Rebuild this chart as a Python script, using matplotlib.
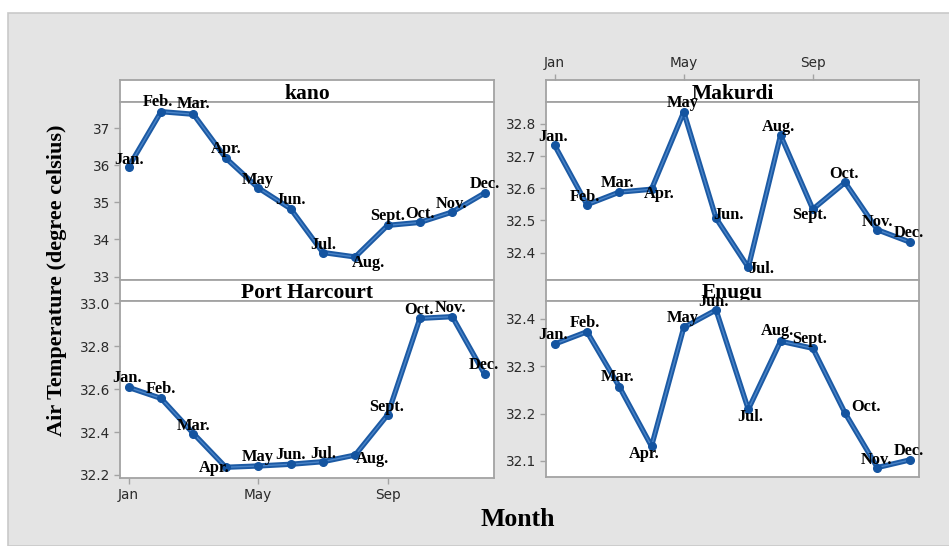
import matplotlib
matplotlib.use("Agg")
import matplotlib.pyplot as plt
from matplotlib.patches import Rectangle

# Monthly mean air temperature (degree celsius) for four Nigerian cities
months = list(range(1, 13))
month_labels = ["Jan.", "Feb.", "Mar.", "Apr.", "May", "Jun.",
                "Jul.", "Aug.", "Sept.", "Oct.", "Nov.", "Dec."]
tick_months = [1, 5, 9]
tick_labels = ["Jan", "May", "Sep"]

kano = [35.96, 37.44, 37.37, 36.19, 35.39, 34.83,
        33.65, 33.53, 34.38, 34.46, 34.74, 35.25]
makurdi = [32.733, 32.549, 32.588, 32.597, 32.837, 32.507,
           32.354, 32.765, 32.535, 32.618, 32.471, 32.433]
port_harcourt = [32.608, 32.557, 32.393, 32.236, 32.242, 32.250,
                 32.262, 32.293, 32.480, 32.930, 32.938, 32.670]
enugu = [32.347, 32.373, 32.257, 32.131, 32.382, 32.419,
         32.209, 32.353, 32.338, 32.201, 32.086, 32.102]

kano_ticks = [33, 34, 35, 36, 37]
makurdi_ticks = [32.4, 32.5, 32.6, 32.7, 32.8]
ph_ticks = [32.2, 32.4, 32.6, 32.8, 33.0]
enugu_ticks = [32.1, 32.2, 32.3, 32.4]

# label placement (pixel offsets of each month label from its point)
up = (0, 9)
kano_off = [(0, 7), (-3, 10), (0, 10), up, (0, 8), up, (0, 8), (13, -6),
            up, (0, 8), (-1, 8), up]
makurdi_off = [(-2, 8), (-2, 8), (-2, 9), (8, -5), (-1, 9), (12, 3),
               (13, -2), (-2, 8), (-3, -6), (-1, 8), (0, 8), (-1, 9)]
ph_off = [(-2, 9), (0, 9), (0, 8), (-12, -1), (0, 9), (0, 9), (0, 8),
          (17, -4), (-1, 8), (-1, 8), (-2, 9), (-1, 9)]
enugu_off = [(-2, 9), (-2, 9), (-2, 10), (-7, -8), (-1, 9), (-3, 8),
             (2, -8), (-3, 10), (-3, 9), (21, 6), (-1, 8), (-1, 9)]

W, H = 949, 546
fig = plt.figure(figsize=(W / 100, H / 100), dpi=100)
fig.patch.set_facecolor("white")

# grey canvas frame, drawn beneath the panels
fig.add_artist(Rectangle((8 / W, 0), 1, 1 - 13 / H, transform=fig.transFigure,
                         facecolor="#e4e4e4", edgecolor="#c9c9c9", lw=1.2,
                         zorder=-5))

SPINE = "#a3a3a3"
LINE_DARK = "#1c5aa4"
LINE_LIGHT = "#4a84c8"
TICK_FONT = dict(family=["DejaVu Sans"], size=9.8, color="#2a2a2a")
SERIF = ["Liberation Serif", "DejaVu Serif"]
XLIM = (0.73, 12.29)


def px_axes(x0, y0, x1, y1):
    return fig.add_axes([x0 / W, 1 - y1 / H, (x1 - x0) / W, (y1 - y0) / H])


def style(ax):
    for s in ax.spines.values():
        s.set_color(SPINE)
        s.set_linewidth(1.3)
    ax.tick_params(colors=SPINE, length=4, width=1, labelcolor="#2a2a2a",
                   pad=3)


def panel(x0, x1, ys, ye, yd, name, values, yticks, ylim, offsets,
          top_ticks=False, bottom_ticks=False):
    strip = px_axes(x0, ys, x1, ye)
    style(strip)
    strip.set_xlim(*XLIM)
    strip.set_yticks([])
    strip.text(0.5, 0.38, name, transform=strip.transAxes, ha="center",
               va="center", family=SERIF, weight="bold", size=15.5)
    if top_ticks:
        strip.xaxis.tick_top()
        strip.set_xticks(tick_months)
        strip.set_xticklabels(tick_labels, **TICK_FONT)
    else:
        strip.set_xticks([])

    ax = px_axes(x0, ye, x1, yd)
    style(ax)
    ax.set_xlim(*XLIM)
    ax.set_ylim(*ylim)
    ax.set_yticks(yticks)
    fmt = "{:.0f}" if name == "kano" else "{:.1f}"
    ax.set_yticklabels([fmt.format(t) for t in yticks], **TICK_FONT)
    if bottom_ticks:
        ax.set_xticks(tick_months)
        ax.set_xticklabels(tick_labels, **TICK_FONT)
    else:
        ax.set_xticks([])

    ax.plot(months, values, color=LINE_DARK, lw=3.8, solid_joinstyle="round",
            zorder=3)
    ax.plot(months, values, color=LINE_LIGHT, lw=1.0, zorder=4)
    ax.plot(months, values, ls="none", marker="o", ms=5.5, color="#1454a0",
            zorder=5)
    for m, v, lab, (dx, dy) in zip(months, values, month_labels, offsets):
        ax.annotate(lab, (m, v), xytext=(dx, dy), textcoords="offset pixels",
                    ha="center", va="center", family=SERIF, weight="bold",
                    size=11.8, color="black", zorder=6, annotation_clip=False)
    return ax


panel(120, 494, 80, 102, 280, "kano", kano, kano_ticks, (32.91, 37.70), kano_off)
panel(120, 494, 280, 301, 478, "Port Harcourt", port_harcourt, ph_ticks,
      (32.186, 33.011), ph_off, bottom_ticks=True)
panel(546, 919, 80, 102, 280, "Makurdi", makurdi, makurdi_ticks,
      (32.315, 32.868), makurdi_off, top_ticks=True)
panel(546, 919, 280, 301, 477, "Enugu", enugu, enugu_ticks,
      (32.066, 32.438), enugu_off)

fig.text(57 / W, 1 - 280 / H, "Air Temperature (degree celsius)", rotation=90,
         ha="center", va="center", family=SERIF, weight="bold", size=16)
fig.text(518 / W, 1 - 520 / H, "Month", ha="center", va="center",
         family=SERIF, weight="bold", size=18.5)

fig.savefig("out.png", dpi=100, facecolor=fig.get_facecolor())
